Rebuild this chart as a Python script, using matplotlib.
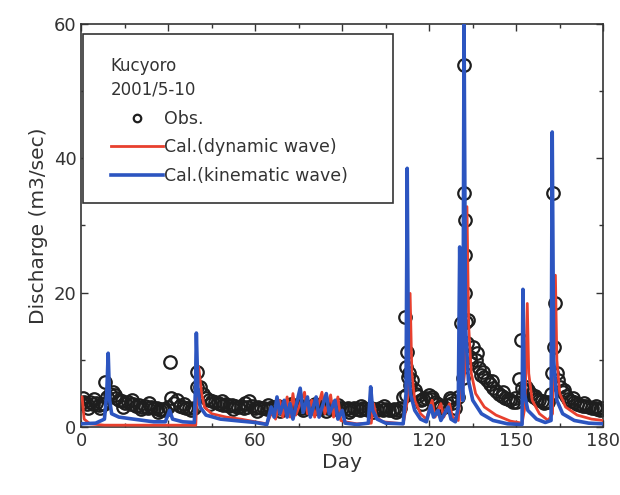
import numpy as np
import matplotlib
matplotlib.use("Agg")
import matplotlib.pyplot as plt
from matplotlib.patches import Rectangle
from matplotlib.ticker import MultipleLocator

plt.rcParams['font.family'] = ['DejaVu Sans']

# observed discharge, one value per day (day 0 .. 180)
obs_daily = [
    3.6, 3.8, 3.5, 3.7, 3.4, 3.6, 3.3, 3.5, 3.4, 4.5,
    5.0, 5.2, 4.4, 4.0, 3.9, 3.6, 3.7, 3.4, 3.5, 3.2,
    3.3, 3.0, 3.2, 2.9, 3.0, 2.8, 2.9, 2.6, 2.7, 2.5,
    3.0, 4.3, 3.6, 4.0, 3.2, 3.0, 2.8, 2.9, 2.6, 2.8,
    8.2, 6.0, 5.0, 4.4, 4.1, 3.9, 3.7, 3.6, 3.5, 3.3,
    3.4, 3.2, 3.3, 3.1, 3.0, 3.1, 2.9, 3.0, 3.9, 3.2,
    2.9, 3.0, 2.8, 2.9, 2.7, 2.8, 3.0, 2.9, 3.1, 2.8,
    3.0, 2.9, 3.1, 2.8, 3.0, 3.2, 2.9, 3.1, 3.0, 2.8,
    3.0, 2.9, 3.1, 2.8, 3.0, 2.9, 2.8, 3.0, 2.7, 2.9,
    2.8, 2.7, 2.9, 2.6, 2.8, 2.7, 2.6, 2.8, 2.7, 2.6,
    2.8, 2.7, 2.6, 2.8, 2.5, 2.7, 2.6, 2.5, 2.7, 2.6,
    2.8, 4.5, 9.0, 8.0, 7.0, 5.5, 4.6, 4.0, 4.2, 4.4,
    4.8, 4.5, 3.8, 3.5, 3.2, 3.0, 3.3, 4.3, 3.6, 2.9,
    4.5, 15.5, 53.9, 12.5, 10.5, 12.0, 10.0, 8.8, 7.8, 7.4,
    7.0, 6.4, 5.9, 5.4, 5.0, 4.7, 4.4, 4.2, 4.0, 3.8,
    3.7, 7.2, 5.8, 5.5, 5.5, 4.9, 4.5, 4.2, 4.0, 3.9,
    3.8, 3.7, 5.0, 12.0, 8.0, 6.0, 5.2, 4.6, 4.2, 3.9,
    3.7, 3.5, 3.3, 3.2, 3.1, 3.0, 2.9, 2.8, 2.7, 2.6,
    2.8,
]
obs_day = list(range(len(obs_daily)))

# extra sub-daily observations (base flow scatter and floods)
obs_extra_day = [0.5, 2.5, 4.5, 6.5, 8.3, 11.5, 14.5, 17.5, 20.5, 23.5, 26.5, 30.7, 35.5,
                 39.8, 44.5, 48.5, 52.5, 56.5, 60.5, 64.5, 68.5, 72.5, 76.5, 80.5, 84.5,
                 88.5, 92.5, 96.5, 100.5, 104.5, 108.5,
                 111.7, 111.9, 112.3, 112.6, 113.5, 115.5, 117.5, 120.5, 123.5, 127.5,
                 131.8, 132.1, 132.2, 132.3, 132.4, 132.6, 133.2, 134.5, 136.5, 138.5,
                 141.5, 145.5, 149.5, 151.7, 151.9, 153.5, 156.5, 159.5,
                 162.2, 162.7, 163.3, 164.5, 166.5, 169.5, 173.5, 177.5]
obs_extra_val = [4.4, 2.9, 4.2, 2.8, 6.7, 4.8, 3.0, 4.0, 2.7, 3.6, 2.3, 9.7, 3.5,
                 6.0, 3.4, 3.9, 2.7, 3.6, 2.4, 3.3, 2.4, 3.5, 2.5, 3.4, 2.4,
                 3.3, 2.3, 3.2, 2.2, 3.1, 2.2,
                 16.4, 4.8, 11.2, 7.5, 6.2, 4.9, 3.5, 4.2, 2.8, 4.0,
                 7.3, 34.8, 30.8, 25.6, 19.9, 15.6, 16.0, 9.5, 11.0, 8.2,
                 6.8, 5.2, 4.4, 13.0, 4.5, 6.0, 4.7, 3.6,
                 8.0, 34.8, 18.4, 7.0, 5.6, 4.4, 3.6, 3.1]

# kinematic wave simulation (breakpoints)
kin_day = [0, 5, 8, 8.8, 9.3, 9.8, 10.5, 13, 18, 25, 29, 30.5, 31.5, 35, 39, 39.4, 39.7,
           40.2, 41, 43, 48, 55, 60, 64, 65.5, 66.5, 67.5, 68.5, 70, 71, 72, 73, 75.5,
           76.5, 78, 79, 81, 82, 84.5, 85.5, 87.5, 88.5, 90, 91, 95, 99, 99.8, 100.5, 102,
           105, 111, 112, 112.4, 112.8, 113.5, 115, 117, 119, 120.5, 121.5, 123, 124,
           126.5, 127.5, 129, 130, 130.5, 131, 131.6, 132, 132.5, 133.5, 135, 138, 142,
           147, 152, 152.3, 152.8, 154, 157, 160, 162, 162.4, 162.9, 164, 166, 170, 175, 180]
kin_val = [0.5, 0.6, 1.2, 5.0, 11.0, 4.0, 2.0, 1.5, 1.2, 0.8, 0.8, 2.5, 1.2, 0.8, 0.7, 6.0, 14.0,
           6.0, 3.0, 1.8, 1.2, 0.9, 0.7, 0.4, 3.0, 1.5, 4.5, 2.0, 4.0, 1.5, 3.5, 1.2, 5.8,
           2.2, 4.5, 1.5, 4.5, 1.5, 5.0, 2.0, 4.0, 1.2, 2.5, 0.6, 0.4, 0.6, 6.0, 2.5, 1.2,
           0.6, 0.5, 5.0, 38.5, 10.0, 5.0, 2.5, 1.2, 0.8, 3.2, 1.5, 2.5, 1.0,
           3.0, 1.2, 0.8, 3.0, 26.8, 8.0, 4.0, 60.5, 15.0, 7.0, 4.0, 2.0, 1.0,
           0.5, 0.4, 20.5, 5.0, 2.5, 1.2, 0.7, 1.0, 43.9, 10.0, 4.0, 2.0, 1.0, 0.6, 0.5]

# dynamic wave simulation (breakpoints)
dyn_day = [0, 0.3, 1, 3, 8, 39.5, 40, 40.5, 41.5, 42.5, 45, 50, 55, 60, 64, 66, 67, 68.5,
           69.5, 71, 72, 73, 74, 77, 78, 79.5, 80.5, 83, 84, 86, 87, 88.5, 89.5, 91, 95,
           100, 100.8, 101.8, 104, 111, 112.5, 113.4, 114, 115, 117, 119, 121, 122, 124,
           125, 127, 128, 130, 131, 131.4, 132.2, 133, 133.6, 134.5, 136, 139, 143, 148,
           152, 153, 153.8, 154.3, 155.5, 158, 161, 162.5, 163.5, 164, 165, 167, 171, 176, 180]
dyn_val = [4.5, 4.5, 1.2, 0.5, 0.3, 0.3, 6.0, 9.0, 5.0, 3.0, 2.0, 1.5, 1.2, 0.8, 0.5, 2.5, 1.2, 4.0,
           1.5, 4.5, 1.5, 5.0, 1.8, 5.2, 2.0, 4.0, 1.5, 5.2, 2.0, 4.8, 1.5, 4.5, 1.0, 0.8, 0.5,
           0.6, 3.5, 1.5, 0.8, 0.5, 4.0, 19.9, 8.0, 4.0, 2.0, 1.2, 4.0, 1.5, 3.5,
           1.5, 3.5, 1.5, 1.0, 8.0, 5.0, 8.0, 32.8, 15.0, 8.0, 5.0, 3.0, 1.8, 0.9,
           0.6, 3.0, 18.4, 8.0, 4.0, 2.0, 1.0, 2.0, 22.6, 10.0, 5.0, 3.0, 1.8, 1.2, 1.0]

fig = plt.figure(figsize=(6.2, 4.95), dpi=100)
ax = fig.add_axes([0.131, 0.137, 0.842, 0.815])

obs_all_day = np.concatenate([obs_day, obs_extra_day])
obs_all_val = np.concatenate([obs_daily, obs_extra_val])
ax.plot(obs_all_day, obs_all_val, linestyle='none', marker='o', markersize=9,
        markerfacecolor='none', markeredgecolor='#1e1e1e', markeredgewidth=1.6,
        label='Obs.', zorder=2)
ax.plot(dyn_day, dyn_val, color='#e8402e', linewidth=2.0, label='Cal.(dynamic wave)', zorder=3)
ax.plot(kin_day, kin_val, color='#2c55c0', linewidth=2.6, label='Cal.(kinematic wave)', zorder=4)

ax.set_xlim(0, 180)
ax.set_ylim(0, 60)
ax.xaxis.set_major_locator(MultipleLocator(30))
ax.xaxis.set_minor_locator(MultipleLocator(15))
ax.yaxis.set_major_locator(MultipleLocator(20))
ax.yaxis.set_minor_locator(MultipleLocator(10))
ax.tick_params(which='both', direction='in', top=True, right=True, colors='#333333',
               labelsize=13, width=1.0)
ax.tick_params(which='major', length=5)
ax.tick_params(which='minor', length=3)
for s in ax.spines.values():
    s.set_color('#333333')
    s.set_linewidth(1.2)

ax.set_xlabel('Day', fontsize=14.5, color='#333333', labelpad=2)
ax.set_ylabel('Discharge (m3/sec)', fontsize=14.5, color='#333333', labelpad=4)

# legend box
ax.add_patch(Rectangle((0.003, 0.556), 0.595, 0.419, transform=ax.transAxes,
                       facecolor='white', edgecolor='#333333', linewidth=1.2, zorder=5))
leg = ax.legend(loc='upper left', bbox_to_anchor=(0.04, 0.94), frameon=False,
                title='Kucyoro\n2001/5-10', alignment='left', fontsize=12.5,
                title_fontproperties={'size': 12}, handlelength=3.0, handletextpad=0.05,
                labelspacing=0.62, borderpad=0, labelcolor='#333333', markerscale=0.6)
leg.get_title().set_color('#333333')
leg.get_title().set_linespacing(1.45)
leg.set_zorder(6)

fig.savefig('out.png', dpi=100)
